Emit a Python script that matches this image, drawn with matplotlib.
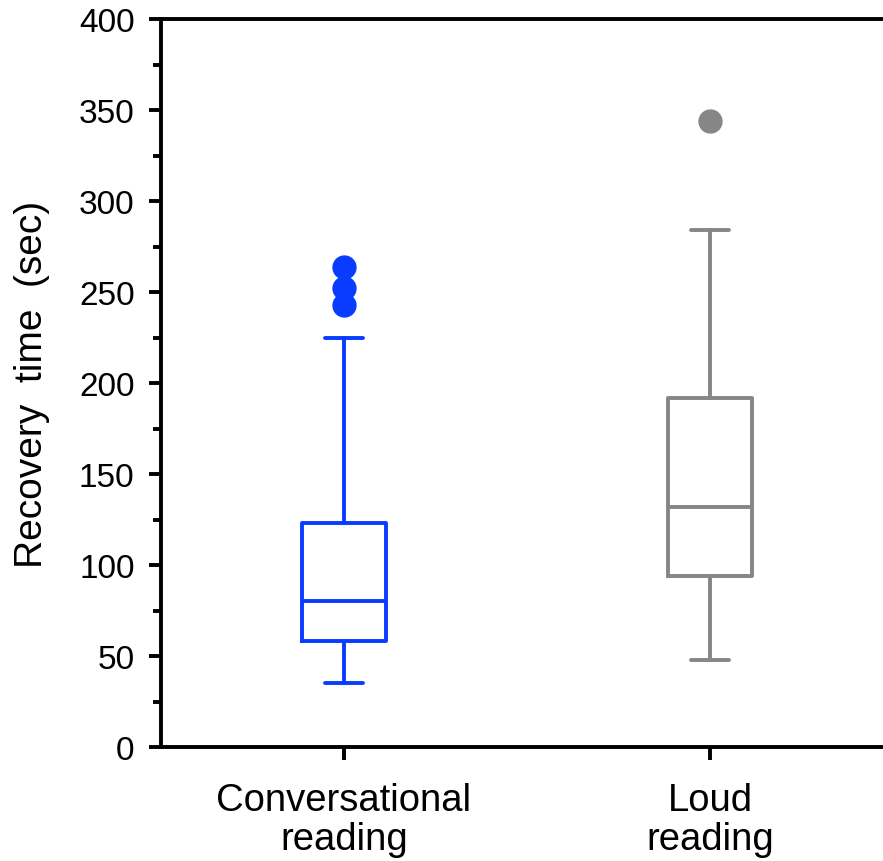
import matplotlib
matplotlib.use("Agg")
import matplotlib.pyplot as plt

plt.rcParams['font.family'] = ['Liberation Sans', 'DejaVu Sans']

# box summary values (sec)
groups = ["Conversational\nreading", "Loud\nreading"]
whislo = [35, 48]
q1 = [58, 94]
med = [80, 132]
q3 = [123, 192]
whishi = [225, 284]
fliers = [[243, 252, 264], [344]]
colors = ["#0a3cff", "#868686"]

stats = []
for i in range(len(groups)):
    stats.append(dict(whislo=whislo[i], q1=q1[i], med=med[i], q3=q3[i],
                      whishi=whishi[i], fliers=fliers[i]))

fig = plt.figure(figsize=(8.83, 8.62), dpi=100)
ax = fig.add_axes([161/883, 114/862, 732/883, 728/862])

for i, s in enumerate(stats):
    c = colors[i]
    ax.bxp([s], positions=[i+1], widths=0.227, capwidths=0.105,
           boxprops=dict(color=c, linewidth=2.8),
           medianprops=dict(color=c, linewidth=2.8),
           whiskerprops=dict(color=c, linewidth=2.8),
           capprops=dict(color=c, linewidth=2.8, solid_capstyle='round'),
           flierprops=dict(marker='o', markerfacecolor=c, markeredgecolor=c,
                           markersize=16.5, linestyle='none'))

ax.set_xlim(0.5, 2.5)
ax.set_ylim(0, 400)
ax.set_yticks(range(0, 401, 50))
ax.set_yticks(range(25, 400, 50), minor=True)
ax.set_xticks([1, 2])
ax.set_xticklabels(groups, fontsize=27.5, linespacing=1.1)
ax.spines['right'].set_visible(False)
for sp in ['left', 'top', 'bottom']:
    ax.spines[sp].set_linewidth(2.8)
ax.tick_params(axis='y', which='major', length=9, width=2.8, labelsize=24, pad=10)
ax.tick_params(axis='y', which='minor', length=6, width=2.8)
ax.tick_params(axis='x', which='major', length=9, width=2.8, pad=16)
ax.set_ylabel("Recovery  time  (sec)", fontsize=28, labelpad=21)

plt.savefig("out.png", dpi=100)
